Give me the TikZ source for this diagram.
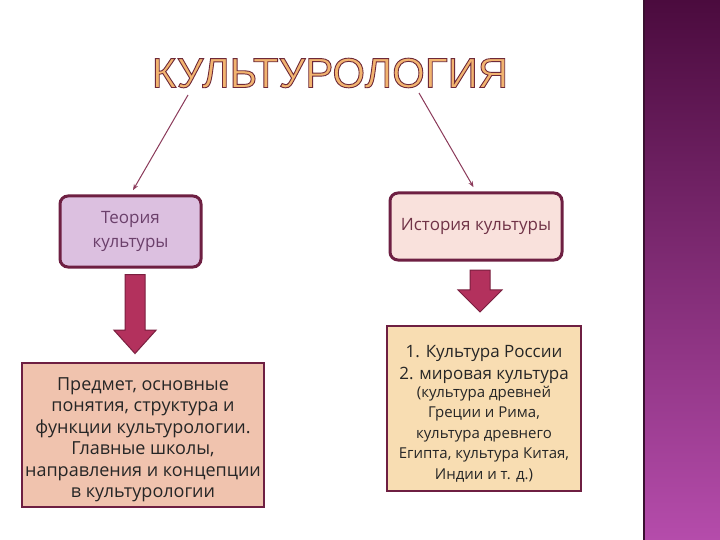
\documentclass[tikz,border=0pt]{standalone}
\usepackage{fontspec}
\setmainfont{Open Sans}
\newfontfamily\titlefont{Liberation Sans}
\usepackage{xcolor}
\usetikzlibrary{arrows.meta,positioning,shapes.arrows}

\definecolor{boxline}{HTML}{6E1F42}
\definecolor{linecol}{HTML}{8B3A5A}
\definecolor{theoryfill}{HTML}{DCC0E0}
\definecolor{historyfill}{HTML}{F9E1DC}
\definecolor{subjectfill}{HTML}{F0C3AE}
\definecolor{worldfill}{HTML}{F8DDB2}
\definecolor{arrfill}{HTML}{B3315D}
\definecolor{arrline}{HTML}{7A1F3F}
\definecolor{titlefill}{HTML}{F2B470}
\definecolor{bandtop}{HTML}{4B0B3E}
\definecolor{bandbot}{HTML}{B54CAB}
\definecolor{bandedge}{HTML}{3A1030}

% outlined letters for the heading
\newcommand\outlined[1]{\special{pdf:literal 2 Tr 0.9 w 0.43 0.16 0.22 RG}#1\special{pdf:literal 0 Tr}}

\begin{document}
\begin{tikzpicture}[x=1pt, y=-1pt,
    topbox/.style={rectangle, draw=boxline, line width=3pt, rounded corners=8pt, align=center, inner sep=3pt, font=\fontsize{17}{24}\selectfont},
    textbox/.style={rectangle, draw=boxline, line width=2.5pt, align=center, inner sep=3pt, text=black!85},
    thinarrow/.style={-{Stealth[length=6pt,width=4.5pt]}, draw=linecol, line width=1pt, shorten >=5pt},
    blockarrow/.style={single arrow, draw=arrline, fill=arrfill, line width=1pt, shape border rotate=270, inner sep=9.5pt}
]
\useasboundingbox (0,0) rectangle (720,540);
\fill[white] (0,0) rectangle (720,540);

% right band
\shade[top color=bandtop, bottom color=bandbot] (644,0) rectangle (720,540);
\draw[bandedge, line width=2pt] (644,0) -- (644,540);

% heading
\node[text=titlefill, font=\titlefont\fontsize{42}{42}\selectfont] (title) at (330,73) {\outlined{КУЛЬТУРОЛОГИЯ}};

\node[topbox, fill=theoryfill, text=violet!45!black!75, minimum width=141pt, minimum height=71pt] (theory) at (130.5,231.5) {Теория\\культуры};
\node[topbox, fill=historyfill, text=black!60!purple!80, minimum width=172pt, minimum height=67pt] (history) at (476,226.5) {История культуры};

\coordinate (tl) at (188,95);
\coordinate (tr) at (419,93);
\draw[thinarrow] (tl) -- (theory.north);
\draw[thinarrow] (tr) -- (history.north);

\node[blockarrow, minimum height=79pt, minimum width=41pt, single arrow head extend=11pt, single arrow tip angle=84] (arrL) at (135,308.5) {};
\node[blockarrow, minimum height=42pt, minimum width=44pt, single arrow head extend=12pt, single arrow tip angle=90] (arrR) at (480,286) {};

\node[textbox, fill=subjectfill, minimum width=240pt, minimum height=144pt, font=\fontsize{18}{21.5}\selectfont] (subject) at (143,435)
  {\rule{0pt}{22pt}Предмет, основные\\понятия, структура и\\функции культурологии.\\Главные школы,\\направления и концепции\\в культурологии};
\node[textbox, fill=worldfill, minimum width=194pt, minimum height=165pt, font=\fontsize{15}{20.5}\selectfont] (world) at (484,408.5)
  {{\fontsize{17}{20.5}\selectfont\rule{0pt}{23pt}1. Культура России}\\[1.5pt]{\fontsize{17}{20.5}\selectfont 2. мировая культура}\\[-3pt]
   (культура древней\\Греции и Рима,\\культура древнего\\Египта, культура Китая,\\Индии и т. д.)};
\end{tikzpicture}
\end{document}
